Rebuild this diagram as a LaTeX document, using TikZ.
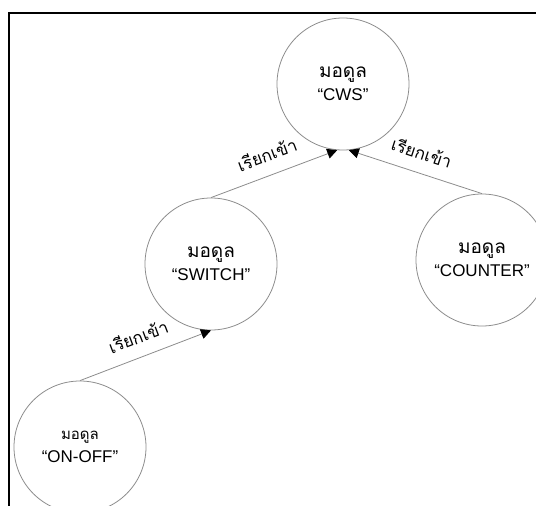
\documentclass[tikz,border=0pt]{standalone}
\usepackage{fontspec}
\setmainfont{Liberation Sans}
\newfontfamily\thaifont[Script=Thai]{Loma}
\usetikzlibrary{arrows.meta}
\newcommand{\ArrTip}{Triangle[length=10,width=10,color=black]}
\tikzset{module/.style={circle,draw=gray!90,line width=.8,minimum size=132,inner sep=0,align=center,font=\fontsize{17}{23}\selectfont}}
\tikzset{call/.style={draw=gray!90,line width=.8,-{\ArrTip}}}
\tikzset{calltext/.style={midway,above,sloped,inner sep=13,font=\thaifont\fontsize{17}{17}\selectfont}}

\begin{document}
\begin{tikzpicture}[x=1pt,y=-1pt]
\useasboundingbox(0,0)rectangle(536,506);
\draw[line width=2](9,506)--(9,13)--(536,13);
% modules
\node[module](cws)at(343,84){{\thaifont\fontsize{19}{23}\selectfont มอดูล}\\“CWS”};
\node[module](switch)at(211,264){{\thaifont\fontsize{19}{23}\selectfont มอดูล}\\“SWITCH”};
\node[module](counter)at(482,260){{\thaifont\fontsize{19}{23}\selectfont มอดูล}\\“COUNTER”};
\node[module](onoff)at(80,447){{\thaifont\fontsize{15}{19}\selectfont มอดูล}\\“ON-OFF”};
% calls
\draw[call](switch.north)--(cws.265)node[calltext]{เรียกเข้า};
\draw[call](counter.north)--(cws.275)node[calltext]{เรียกเข้า};
\draw[call](onoff.north)--(switch.south)node[calltext]{เรียกเข้า};
\end{tikzpicture}
\end{document}
